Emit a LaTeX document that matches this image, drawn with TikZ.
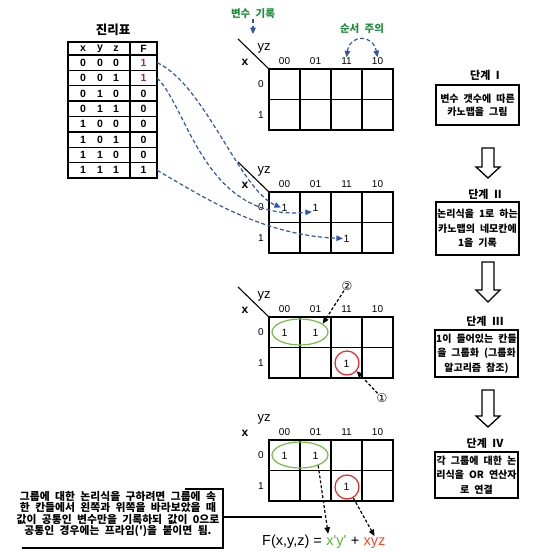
\documentclass[tikz,border=0pt]{standalone}
\usepackage{fontspec}
\setmainfont{Liberation Sans}
\newfontfamily\kr{Noto Sans CJK KR}[WordSpace=2.2]
\newfontfamily\dejavu{DejaVu Sans}
\usetikzlibrary{arrows.meta,shapes.geometric}
\definecolor{arrowblue}{HTML}{3355AA}
\definecolor{notegreen}{HTML}{1E8C3C}
\definecolor{ellgreen}{HTML}{77BB44}
\definecolor{circred}{HTML}{EE2222}
\definecolor{fmaroon}{HTML}{A02860}
\definecolor{fgreen}{HTML}{55BB22}
\definecolor{fred}{HTML}{FF4422}
\tikzset{
  bluetip/.tip={Triangle[length=6.5pt,width=5.5pt]},
  blacktip/.tip={Triangle[length=6.5pt,width=5.5pt]},
  kline/.style={line width=1.4pt},
  tline/.style={line width=1.4pt},
  collbl/.style={inner sep=0pt, font=\fontsize{10}{10}\selectfont},
  yzlbl/.style={inner sep=0pt, font=\fontsize{13}{13}\selectfont},
  xlbl/.style={inner sep=0pt, font=\bfseries\fontsize{12}{12}\selectfont},
  cellone/.style={inner sep=0.5pt, font=\fontsize{10.5}{10.5}\selectfont},
  ttxt/.style={inner sep=0pt, font=\bfseries\fontsize{10.5}{10.5}\selectfont},
  fcell/.style={minimum width=27pt, minimum height=15.4pt, inner sep=0pt, font=\bfseries\fontsize{10.5}{10.5}\selectfont},
  krlab/.style={inner sep=0pt, font=\kr\bfseries\fontsize{10.5}{10.5}\selectfont},
  steplab/.style={inner sep=0pt, font=\kr\bfseries\fontsize{11}{11}\selectfont},
  stepbox/.style={draw, line width=1.5pt, minimum width=83pt, inner sep=0pt, align=center, font=\kr\bfseries\fontsize{10}{14.5}\selectfont},
  note/.style={inner sep=0pt, align=center, font=\kr\bfseries\fontsize{10.8}{11.6}\selectfont},
  bluedash/.style={draw=arrowblue, line width=1.2pt, dash pattern=on 4pt off 2.5pt, -bluetip, fill=none},
  blackdash/.style={draw=black, line width=1.2pt, dash pattern=on 3pt off 2pt, -blacktip},
  grp/.style={draw=ellgreen, line width=1.2pt, ellipse, minimum width=56pt, minimum height=26pt, inner sep=0pt},
  rgrp/.style={draw=circred, line width=1.2pt, circle, minimum size=24pt, inner sep=0pt},
  circnum/.style={inner sep=0pt, font=\dejavu\fontsize{12}{12}\selectfont},
  fml/.style={inner sep=0pt, font=\fontsize{14.5}{14.5}\selectfont},
  harrow/.style={draw, line width=1.3pt, fill=white, line join=miter},
  kmap/.pic={
    \draw[kline] (0,0) rectangle (124,61);
    \draw[kline] (31,0) -- (31,61) (62,0) -- (62,61) (93,0) -- (93,61) (0,30.5) -- (124,30.5);
    \node[collbl] (-l00) at (15.5,-8) {00};
    \node[collbl] (-l01) at (46.5,-8) {01};
    \node[collbl] (-l11) at (77.5,-8) {11};
    \node[collbl] (-l10) at (108.5,-8) {10};
    \node[collbl] (-r0) at (-8,15) {0};
    \node[collbl] (-r1) at (-8,46) {1};
    \node[yzlbl] (-yz) at (-5,-21) {yz};
    \node[xlbl] (-x) at (-24,-7) {x};
  },
  kdiag/.pic={\draw[line width=1.1pt] (-31,-30) -- (0,0);}
}
\begin{document}
\begin{tikzpicture}[x=1pt,y=-1pt]
\useasboundingbox (0,0) rectangle (541,552);

% ---------- truth table ----------
\node[krlab, font=\kr\bfseries\fontsize{12.5}{12.5}\selectfont] (ttitle) at (113,30) {진리표};
\draw[tline] (68,42) rectangle (157,178);
\draw[tline] (130,42) -- (130,178);
\foreach \i in {0,...,7} \draw[tline] (68,{55+15.375*\i}) -- (157,{55+15.375*\i});
\node[ttxt] (t-hx) at (83,48.5) {x};
\node[ttxt] (t-hy) at (100,48.5) {y};
\node[ttxt] (t-hz) at (116,48.5) {z};
\node[ttxt] (t-hF) at (143.5,48.5) {F};
\foreach \a/\b/\c/\f/\col [count=\i from 0] in {0/0/0/1/fmaroon,0/0/1/1/fmaroon,0/1/0/0/black,0/1/1/0/black,1/0/0/0/black,1/0/1/0/black,1/1/0/0/black,1/1/1/1/black}{
  \node[ttxt] (t-x\i) at (83,{62.7+15.375*\i}) {\a};
  \node[ttxt] (t-y\i) at (100,{62.7+15.375*\i}) {\b};
  \node[ttxt] (t-z\i) at (116,{62.7+15.375*\i}) {\c};
  \node[fcell, text=\col] (t-F\i) at (143.5,{62.7+15.375*\i}) {\f};
}

% ---------- K-maps ----------
\pic (k1) at (269,69) {kmap};
\pic at (269,69) {kdiag};
\pic (k2) at (269,192) {kmap};
\pic at (269,192) {kdiag};
\pic (k3) at (269,317) {kmap};
\pic at (269,317) {kdiag};
\pic (k4) at (269,440) {kmap};

% annotations on map 1
\node[krlab, text=notegreen] (vb) at (253,14) {변수 기록};
\draw[bluedash] (vb.south) -- ++(0,15);
\node[krlab, text=notegreen] (sj) at (362,29) {순서 주의};
\draw[bluedash, bluetip-bluetip] (k1-l11.north) .. controls (350,34) and (373,34) .. (k1-l10.north);

% map 2 entries
\node[cellone] (k2-c00) at (284.5,207.5) {1};
\node[cellone] (k2-c01) at (315.5,207.5) {1};
\node[cellone] (k2-c11b) at (346.5,238.5) {1};
\draw[bluedash] (t-F0.east) .. controls (205,85) and (240,190) .. (k2-c00.west);
\draw[bluedash] (t-F1.east) .. controls (188,108) and (205,222) .. (k2-c01.south west);
\draw[bluedash] (t-F7.east) .. controls (200,195) and (260,235) .. (k2-c11b.west);

% map 3 entries
\node[cellone] (k3-c00) at (284.5,332.5) {1};
\node[cellone] (k3-c01) at (315.5,332.5) {1};
\node[cellone] (k3-c11b) at (346.5,363.5) {1};
\node[grp] (k3-g) at (300,332) {};
\node[rgrp] (k3-r) at (347,363) {};
\node[circnum] (n2) at (347,286) {②};
\node[circnum] (n1) at (382,398) {①};
\draw[blackdash] (n2) -- (k3-g.20);
\draw[blackdash] (n1) -- (k3-r.-40);

% map 4 entries
\node[cellone] (k4-c00) at (284.5,455.5) {1};
\node[cellone] (k4-c01) at (315.5,455.5) {1};
\node[cellone] (k4-c11b) at (346.5,486.5) {1};
\node[grp] (k4-g) at (300,455) {};
\node[rgrp] (k4-r) at (347,487) {};

% formula
\node[fml, anchor=base west] (fl) at (262,545) {F(x,y,z) =};
\node[fml, anchor=base west, text=fgreen] (fg) at ([xshift=4pt]fl.base east) {x\textquotesingle y\textquotesingle};
\node[fml, anchor=base west] (fp) at ([xshift=4pt]fg.base east) {+};
\node[fml, anchor=base west, text=fred] (fr) at ([xshift=4pt]fp.base east) {xyz};
\draw[blackdash] (k4-g.-30) -- ([xshift=2pt,yshift=1pt]fg.north west);
\draw[blackdash] (k4-r.-60) -- ([yshift=1pt]fr.north);

% note
\node[note] (note) at (118,514) {그룹에 대한 논리식을 구하려면 그룹에 속\\한 칸들에서 왼쪽과 위쪽을 바라보았을 때\\값이 공통인 변수만을 기록하되 값이 0으로\\공통인 경우에는 프라임(\textquotesingle)을 붙이면 됨.};
\draw[line width=1.4pt] (185,489) -- (223,489) -- (223,548) -- (22,548);
\coordinate (nj) at (223,517);
\coordinate (ne) at (322,517);
\draw[line width=1.2pt] (nj) -- (ne);

% ---------- steps ----------
\node[steplab] (s1l) at (485,75) {단계 I};
\node[stepbox, minimum height=40pt, font=\kr\bfseries\fontsize{10}{13}\selectfont] (s1) at (477.5,105) {변수 갯수에 따른\\카노맵을 그림};
\node[steplab] (s2l) at (485,194) {단계 II};
\node[stepbox, minimum height=53pt] (s2) at (477.5,228.5) {논리식을 1로 하는\\카노맵의 네모칸에\\1을 기록};
\node[steplab] (s3l) at (485,321) {단계 III};
\node[stepbox, minimum height=47pt] (s3) at (476.5,353.5) {1이 들어있는 칸들\\을 그룹화 (그룹화\\알고리즘 참조)};
\node[steplab] (s4l) at (485,443) {단계 IV};
\node[stepbox, minimum height=46pt] (s4) at (476.5,475) {각 그룹에 대한 논\\리식을 OR 연산자\\로 연결};

\draw[harrow] (482,148) -- (494,148) -- (494,167) -- (500,167) -- (488,178) -- (476,167) -- (482,167) -- cycle;
\draw[harrow] (482,262) -- (494,262) -- (494,290) -- (500,290) -- (488,302) -- (476,290) -- (482,290) -- cycle;
\draw[harrow] (482,390) -- (494,390) -- (494,416) -- (500,416) -- (488,427) -- (476,416) -- (482,416) -- cycle;
\end{tikzpicture}
\end{document}
